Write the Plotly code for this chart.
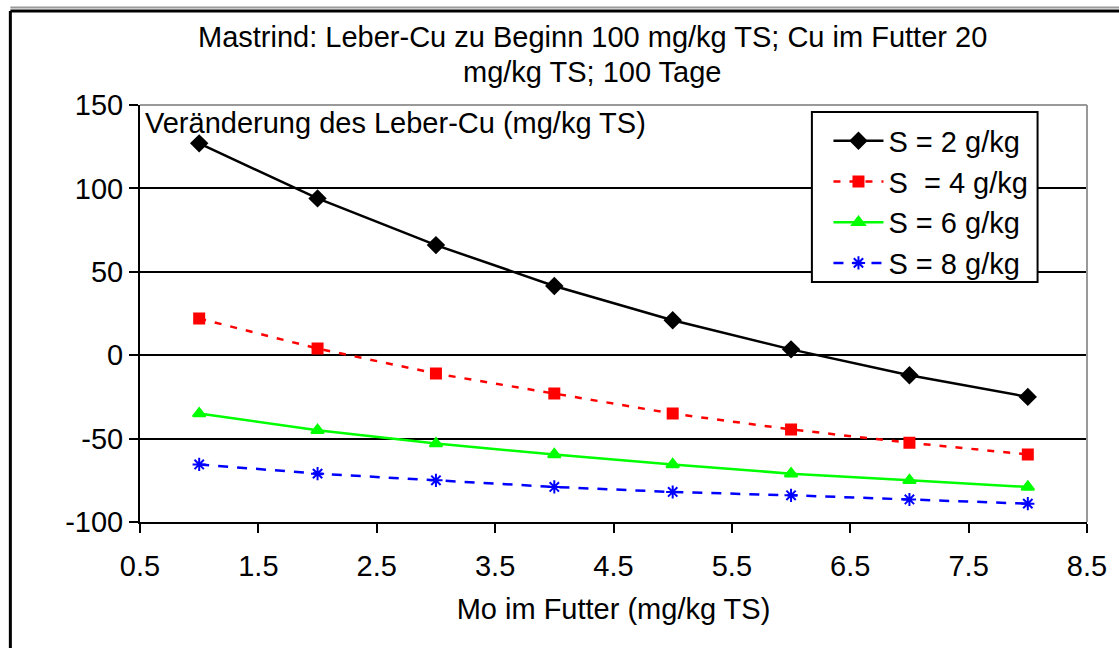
import plotly.graph_objects as go

mo = [1, 2, 3, 4, 5, 6, 7, 8]
s2 = [127, 94, 66, 41.5, 21, 3.5, -12, -25]
s4 = [22, 4, -11, -23, -35, -44.5, -52.5, -59.5]
s6 = [-35, -45, -53, -59.5, -65.5, -71, -75, -79]
s8 = [-65.5, -71, -75, -79, -82, -84, -86.5, -89]
names = ["S = 2 g/kg", "S  = 4 g/kg", "S = 6 g/kg", "S = 8 g/kg"]
xticks = [0.5, 1.5, 2.5, 3.5, 4.5, 5.5, 6.5, 7.5, 8.5]
yticks = [-100, -50, 0, 50, 100, 150]
title_lines = ["Mastrind: Leber-Cu zu Beginn 100 mg/kg TS; Cu im Futter 20", "mg/kg TS; 100 Tage"]

FONT = "Liberation Sans, Arial, sans-serif"
FS = 29

fig = go.Figure()
styles = [
    dict(color="black", dash="solid", symbol="diamond", size=12, width=2.5),
    dict(color="#FF0000", dash="7px,9px", symbol="square", size=10, width=2.5),
    dict(color="#00FF00", dash="solid", symbol="triangle-up", size=11, width=2.5),
    dict(color="#0000FF", dash="10px,9px", symbol="asterisk-open", size=11, width=2.5),
]
for ys, nm, st in zip([s2, s4, s6, s8], names, styles):
    fig.add_trace(go.Scatter(
        x=mo, y=ys, name=nm, mode="lines+markers",
        line=dict(color=st["color"], dash=st["dash"], width=st["width"]),
        marker=dict(symbol=st["symbol"], size=st["size"], color=st["color"],
                    line=dict(color=st["color"], width=2)),
    ))

fig.update_layout(
    width=1119, height=648,
    margin=dict(l=140, r=22, t=105, b=126),
    paper_bgcolor="white", plot_bgcolor="white",
    font=dict(family=FONT, size=FS, color="black"),
    showlegend=True,
    legend=dict(x=0.727, y=0.975, xanchor="left", yanchor="top",
                bgcolor="rgba(0,0,0,0)", borderwidth=0,
                font=dict(family=FONT, size=FS, color="black"),
                itemwidth=50, tracegroupgap=0),
    xaxis=dict(range=[0.5, 8.5], tickvals=xticks, ticktext=[str(v) for v in xticks],
               showgrid=False, zeroline=False, showline=True, linecolor="black", linewidth=2,
               ticks="outside", ticklen=9, tickcolor="black", tickwidth=1.5,
               ticklabelstandoff=8,
               tickfont=dict(size=FS), title=dict(text="Mo im Futter (mg/kg TS)", standoff=18,
                                                   font=dict(size=FS))),
    yaxis=dict(range=[-100, 150], tickvals=yticks, ticktext=[str(v) for v in yticks],
               showgrid=True, gridcolor="black", gridwidth=1.5,
               zeroline=False, showline=True, linecolor="black", linewidth=2,
               ticks="outside", ticklen=9, tickcolor="black", tickwidth=1.5,
               tickfont=dict(size=FS)),
)

# gray top/right plot borders
fig.add_shape(type="line", xref="paper", yref="paper", x0=0, x1=1, y0=1, y1=1,
              line=dict(color="#999999", width=2), layer="above")
fig.add_shape(type="line", xref="paper", yref="paper", x0=1, x1=1, y0=0, y1=1,
              line=dict(color="#999999", width=2), layer="above")
# legend box
fig.add_shape(type="rect", xref="paper", yref="paper", x0=0.7095, x1=0.9478, y0=0.5755, y1=0.9832,
              line=dict(color="black", width=2), fillcolor="white", layer="above")
# outer frame
fig.add_shape(type="line", xref="paper", yref="paper", x0=-0.1369, x1=1.1, y0=1.2254, y1=1.2254,
              line=dict(color="black", width=3), layer="above")
fig.add_shape(type="line", xref="paper", yref="paper", x0=-0.1369, x1=1.1, y0=1.234, y1=1.234,
              line=dict(color="#999999", width=2), layer="above")
fig.add_shape(type="line", xref="paper", yref="paper", x0=-0.1369, x1=-0.1369, y0=-0.4, y1=1.2254,
              line=dict(color="black", width=3), layer="above")

for txt, yy in zip(title_lines, [1.163, 1.079]):
    fig.add_annotation(text=txt, xref="paper", yref="paper",
                       x=0.4775, y=yy, xanchor="center", yanchor="middle", showarrow=False,
                       font=dict(family=FONT, size=FS, color="black"))
fig.add_annotation(text="Veränderung des Leber-Cu (mg/kg TS)", xref="paper", yref="paper",
                   x=0.003, y=1.0, xanchor="left", yanchor="top", showarrow=False,
                   font=dict(family=FONT, size=FS, color="black"))

fig.write_html("out.html", config={"displayModeBar": False},
               post_script="document.body.style.margin='0';document.body.style.overflow='hidden';")
